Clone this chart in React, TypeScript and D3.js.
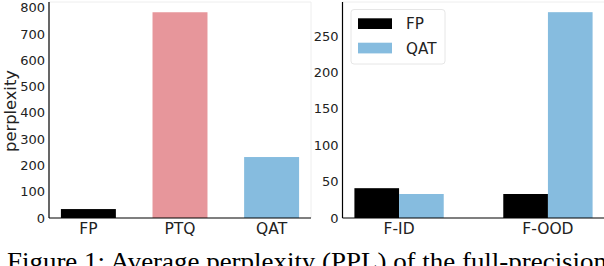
import React from "react";
import * as d3 from "d3";

const leftCats = ["FP", "PTQ", "QAT"];
const leftVals = [34, 783, 232];
const leftColors = ["#000000", "#e7969b", "#86bcdf"];
const leftTicks = [0, 100, 200, 300, 400, 500, 600, 700, 800];

const rightCats = ["F-ID", "F-OOD"];
const seriesNames = ["FP", "QAT"];
const fpVals = [41, 33];
const qatVals = [33, 283];
const seriesColors = ["#000000", "#86bcdf"];
const rightTicks = [0, 50, 100, 150, 200, 250];

const caption = "Figure 1: Average perplexity (PPL) of the full-precision";

const W = 604;
const H = 266;
const top = 2;
const bottom = 218;
const tickFont = "DejaVu Sans, sans-serif";

function App() {
  // left panel
  const xl = d3.scaleLinear().domain([-0.43, 2.43]).range([49, 311]);
  const yl = d3.scaleLinear().domain([0, 822]).range([bottom, top]);
  // right panel
  const xr = d3.scaleLinear().domain([-0.38, 1.38]).range([342.5, 604.5]);
  const yr = d3.scaleLinear().domain([0, 297]).range([bottom, top]);
  const rightSeries = [fpVals, qatVals];

  return (
    <svg width={W} height={H} style={{ position: "absolute", left: 0, top: 0 }}>
      <rect width={W} height={H} fill="#fff" />

      {/* left panel */}
      <g>
        {leftVals.map((v, i) => (
          <rect
            key={i}
            x={xl(i - 0.3)}
            width={xl(i + 0.3) - xl(i - 0.3)}
            y={yl(v)}
            height={yl(0) - yl(v)}
            fill={leftColors[i]}
          />
        ))}
        <line x1={49} x2={311} y1={top} y2={top} stroke="#eeeeee" />
        <line x1={311} x2={311} y1={top} y2={bottom} stroke="#eeeeee" />
        <line x1={49} x2={49} y1={top} y2={bottom} stroke="#000" strokeWidth={1.2} />
        <line x1={49} x2={311} y1={bottom} y2={bottom} stroke="#000" strokeWidth={1.2} />
        {leftTicks.map((t) => (
          <text
            key={t}
            x={45}
            y={yl(t)}
            dy="0.35em"
            textAnchor="end"
            fontFamily={tickFont}
            fontSize={13}
            fill="#222"
          >
            {t}
          </text>
        ))}
        {leftCats.map((c, i) => (
          <text
            key={c}
            x={xl(i)}
            y={233.5}
            textAnchor="middle"
            fontFamily={tickFont}
            fontSize={15.5}
            fill="#222"
          >
            {c}
          </text>
        ))}
        <text
          transform="translate(15.5,111) rotate(-90)"
          textAnchor="middle"
          fontFamily={tickFont}
          fontSize={16.3}
          fill="#222"
        >
          perplexity
        </text>
      </g>

      {/* right panel */}
      <g>
        {rightSeries.map((vals, s) =>
          vals.map((v, i) => {
            const x0 = i + (s === 0 ? -0.3 : 0);
            return (
              <rect
                key={s + "-" + i}
                x={xr(x0)}
                width={xr(x0 + 0.3) - xr(x0)}
                y={yr(v)}
                height={yr(0) - yr(v)}
                fill={seriesColors[s]}
              />
            );
          })
        )}
        <line x1={342.5} x2={604} y1={top} y2={top} stroke="#eeeeee" />
        <line x1={342.5} x2={342.5} y1={top} y2={bottom} stroke="#000" strokeWidth={1.2} />
        <line x1={342.5} x2={604} y1={bottom} y2={bottom} stroke="#000" strokeWidth={1.2} />
        {rightTicks.map((t) => (
          <text
            key={t}
            x={338.5}
            y={yr(t)}
            dy="0.35em"
            textAnchor="end"
            fontFamily={tickFont}
            fontSize={13}
            fill="#222"
          >
            {t}
          </text>
        ))}
        {rightCats.map((c, i) => (
          <text
            key={c}
            x={xr(i)}
            y={233.5}
            textAnchor="middle"
            fontFamily={tickFont}
            fontSize={15.5}
            fill="#222"
          >
            {c}
          </text>
        ))}
        {/* legend */}
        <rect x={351} y={9.5} width={94} height={54.5} rx={3} fill="#fff" stroke="#e6e6e6" />
        {seriesNames.map((n, i) => (
          <g key={n}>
            <rect x={358} y={18.3 + i * 24.4} width={34} height={10.7} fill={seriesColors[i]} />
            <text
              x={406}
              y={23.7 + i * 24.4}
              dy="0.36em"
              fontFamily={tickFont}
              fontSize={15.2}
              fill="#222"
            >
              {n}
            </text>
          </g>
        ))}
      </g>

      <text
        x={7}
        y={270}
        fontFamily="Liberation Serif, Times New Roman, serif"
        fontSize={26}
        textLength={600}
        lengthAdjust="spacingAndGlyphs"
        fill="#000"
      >
        {caption}
      </text>
    </svg>
  );
}

export default App;
